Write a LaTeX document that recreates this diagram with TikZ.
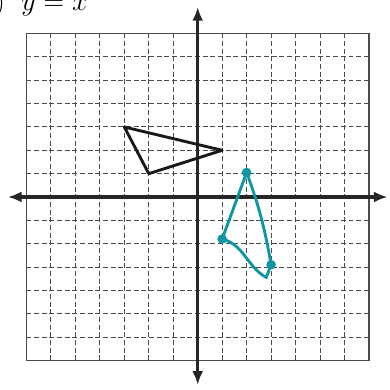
\documentclass[tikz,border=0pt]{standalone}
\usetikzlibrary{arrows.meta}
\definecolor{pen}{RGB}{16,150,160}
\tikzset{
  gridline/.style={dash pattern=on 3.6pt off 2pt, line width=0.7pt, black!70},
  axis/.style={line width=2.6pt, black!85, {Latex[length=10pt,width=8pt]}-{Latex[length=10pt,width=8pt]}},
  tri/.style={line width=2.1pt, line join=round},
  vert/.style={circle, fill=pen, inner sep=0pt, minimum size=7pt}
}
\begin{document}
\begin{tikzpicture}[x=0.628cm,y=0.599cm]
\useasboundingbox (-8.08,-8.27) rectangle (7.84,8.44);
\node[anchor=base west, inner sep=0pt, font=\fontsize{20}{20}\selectfont] (title) at (-8.29,8.0) {)\hspace{12pt}$y=x$};

% grid
\foreach \k in {-6,...,6} {
  \draw[gridline] (\k,-7) -- (\k,7);
  \draw[gridline] (-7,\k) -- (7,\k);
}
\draw[line width=0.8pt, black!70] (-7,-7) rectangle (7,7);

% axes
\coordinate (xl) at (-7.76,0);
\coordinate (xr) at (7.76,0);
\coordinate (yb) at (0,-8.05);
\coordinate (yt) at (0,8.14);
\draw[axis] (xl) -- (xr);
\draw[axis] (yb) -- (yt);

% original triangle
\coordinate (A) at (-3,3);
\coordinate (B) at (-2,1);
\coordinate (C) at (1,2);
\draw[tri, black!90] (A) -- (B) -- (C) -- cycle;

% image under y=x
\node[vert] (A1) at (3,-2.9) {};
\node[vert] (B1) at (1,-1.8) {};
\node[vert] (C1) at (2,1.05) {};
\coordinate (low) at (2.8,-3.45);
\draw[tri, pen, line cap=round] (C1.center) -- (B1.center) to[out=-15,in=150] (low) -- (A1.center) to[out=100,in=-70] (C1.center);
\end{tikzpicture}
\end{document}
